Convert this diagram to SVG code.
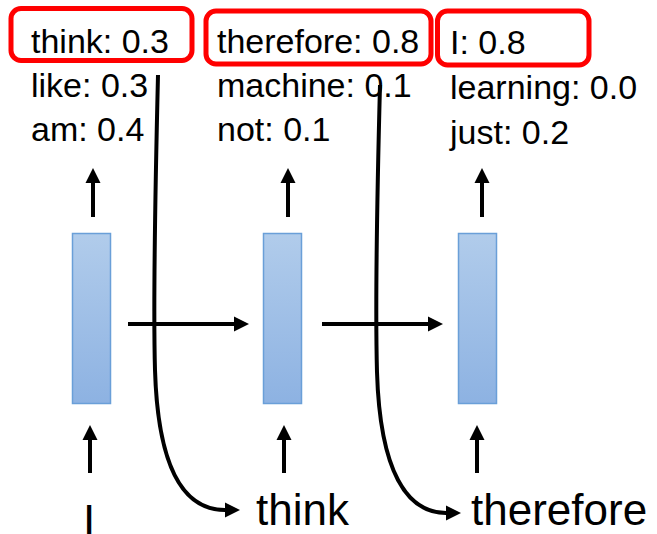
<svg xmlns="http://www.w3.org/2000/svg" width="657" height="534" viewBox="0 0 657 534">
  <style>
    .t { font-family: "Liberation Sans", Arial, sans-serif; font-size: 34px; fill: #000; }
    .b { font-family: "Liberation Sans", Arial, sans-serif; font-size: 44px; fill: #000; }
    .hl { fill: none; stroke: #ff0000; stroke-width: 5; }
    .bar { fill: url(#bg); stroke: #6a9fd8; stroke-width: 1.5; }
    .c { fill: none; stroke: #000; stroke-width: 4; }
  </style>
  <defs>
    <linearGradient id="bg" x1="0" y1="0" x2="0" y2="1">
      <stop offset="0" stop-color="#b1cceb"/>
      <stop offset="1" stop-color="#8db2e2"/>
    </linearGradient>
    <marker id="ah" markerUnits="userSpaceOnUse" markerWidth="16" markerHeight="16" refX="0" refY="8" orient="auto" viewBox="0 0 16 16">
      <path d="M0,0.5 L15,8 L0,15.5 z" fill="#000"/>
    </marker>
  </defs>
  <rect width="657" height="534" fill="#fff"/>

  <g id="out1">
    <rect class="hl" x="11" y="8.5" width="181" height="52" rx="10"/>
    <text class="t" x="31" y="53">think: 0.3</text>
    <text class="t" x="31" y="97">like: 0.3</text>
    <text class="t" x="31" y="141">am: 0.4</text>
  </g>
  <g id="out2">
    <rect class="hl" x="206" y="11" width="225" height="53" rx="10"/>
    <text class="t" x="217" y="53">therefore: 0.8</text>
    <text class="t" x="217" y="97">machine: 0.1</text>
    <text class="t" x="217" y="141">not: 0.1</text>
  </g>
  <g id="out3">
    <rect class="hl" x="437.5" y="11" width="151.5" height="54" rx="10"/>
    <text class="t" x="450" y="54">I: 0.8</text>
    <text class="t" x="450" y="99">learning: 0.0</text>
    <text class="t" x="450" y="144">just: 0.2</text>
  </g>

  <g id="cell1"><rect class="bar" x="72.5" y="233.5" width="38" height="170"/></g>
  <g id="cell2"><rect class="bar" x="263.5" y="233.5" width="38" height="170"/></g>
  <g id="cell3"><rect class="bar" x="458.5" y="233.5" width="38" height="170"/></g>

  <g id="in1"><text class="b" x="83" y="536">I</text></g>
  <g id="in2"><text class="b" x="256" y="525">think</text></g>
  <g id="in3"><text class="b" x="471" y="525">therefore</text></g>

  <g id="connectors">
    <path class="c" d="M93,217 L93,183" marker-end="url(#ah)"/>
    <path class="c" d="M288,217 L288,183" marker-end="url(#ah)"/>
    <path class="c" d="M482,217 L482,183" marker-end="url(#ah)"/>
    <path class="c" d="M90,473 L90,440" marker-end="url(#ah)"/>
    <path class="c" d="M284,473 L284,440" marker-end="url(#ah)"/>
    <path class="c" d="M477,473 L477,440" marker-end="url(#ah)"/>
    <path class="c" d="M128,324 L234,324" marker-end="url(#ah)"/>
    <path class="c" d="M322,324 L428,324" marker-end="url(#ah)"/>
    <path class="c" d="M158,75 C155,200 153,300 155,370 C158,470 185,510 225,510" marker-end="url(#ah)"/>
    <path class="c" d="M380,85 C377,200 375,300 377,372 C380,472 407,513 446,513" marker-end="url(#ah)"/>
  </g>
</svg>
